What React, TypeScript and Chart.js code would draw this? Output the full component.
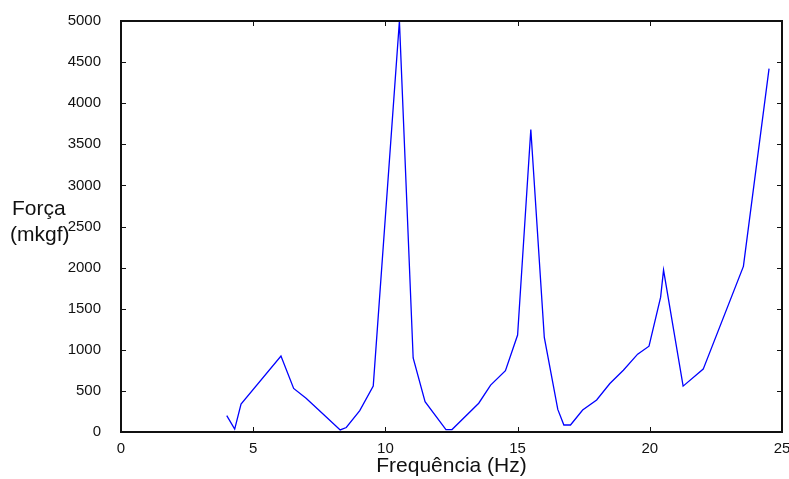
import React, { useEffect, useRef } from "react";
import { Chart, registerables } from "chart.js";

Chart.register(...registerables);

const freq = [
  4.0, 4.3, 4.54, 6.05, 6.53, 7.0, 7.54, 8.29, 8.52, 9.03, 9.54, 10.53, 11.05,
  11.5, 12.29, 12.52, 13.53, 13.98, 14.54, 15.0, 15.5, 16.01, 16.52, 16.75,
  17.0, 17.46, 17.99, 18.49, 19.0, 19.54, 19.97, 20.41, 20.52, 21.26, 22.02,
  23.54, 24.51,
];
const force = [
  200, 36, 340, 925, 530, 410, 250, 25, 55, 260, 560, 5000, 900, 370, 30, 30,
  350, 570, 745, 1180, 3680, 1150, 275, 85, 85, 267, 390, 590, 752, 947, 1044,
  1640, 1970, 558, 765, 2015, 4420,
];
const xTitle = "Frequência (Hz)";
const yTitleLines = ["Força", "(mkgf)"];

const FONT = "'Liberation Sans', Arial, sans-serif";
const INK = "#111111";

const framePlugin = {
  id: "framePlugin",
  afterDraw(chart: any) {
    const { ctx, chartArea } = chart;
    const { left, right, top, bottom } = chartArea;
    const xs = chart.scales.x;
    const ys = chart.scales.y;
    ctx.save();
    ctx.strokeStyle = INK;
    ctx.lineWidth = 1;
    ctx.beginPath();
    xs.ticks.forEach((t: any) => {
      const px = Math.round(xs.getPixelForValue(t.value)) + 0.5;
      ctx.moveTo(px, bottom);
      ctx.lineTo(px, bottom - 5);
      ctx.moveTo(px, top);
      ctx.lineTo(px, top + 5);
    });
    ys.ticks.forEach((t: any) => {
      const py = Math.round(ys.getPixelForValue(t.value)) + 0.5;
      ctx.moveTo(left, py);
      ctx.lineTo(left + 5, py);
      ctx.moveTo(right, py);
      ctx.lineTo(right - 5, py);
    });
    ctx.stroke();
    ctx.lineWidth = 2;
    ctx.strokeRect(left, top, right - left, bottom - top);
    ctx.fillStyle = INK;
    ctx.font = `21px ${FONT}`;
    ctx.textAlign = "left";
    ctx.textBaseline = "middle";
    ctx.fillText(yTitleLines[0], 12, 209);
    ctx.fillText(yTitleLines[1], 10, 235);
    ctx.restore();
  },
};

export default function App() {
  const ref = useRef<HTMLCanvasElement | null>(null);
  useEffect(() => {
    if (!ref.current) return;
    const chart = new Chart(ref.current, {
      type: "scatter",
      data: {
        datasets: [
          {
            data: freq.map((x, i) => ({ x, y: force[i] })),
            showLine: true,
            borderColor: "#0000ff",
            backgroundColor: "#0000ff",
            borderWidth: 1.3,
            pointRadius: 0,
            fill: false,
            tension: 0,
          },
        ],
      },
      options: {
        animation: false,
        responsive: false,
        maintainAspectRatio: false,
        layout: { padding: { top: 20, right: 7, left: 0, bottom: 0 } },
        plugins: { legend: { display: false }, tooltip: { enabled: false } },
        scales: {
          x: {
            type: "linear",
            min: 0,
            max: 25,
            ticks: {
              stepSize: 5,
              color: INK,
              font: { family: FONT, size: 15 },
              padding: 0,
              maxRotation: 0,
              callback: (v: any) => String(v),
            },
            grid: { display: false },
            border: { display: false },
            title: {
              display: true,
              text: xTitle,
              color: INK,
              font: { family: FONT, size: 21, lineHeight: 1 },
              padding: { top: 0, bottom: 2 },
            },
            afterFit: (s: any) => {
              s.height = 47;
              s.paddingRight = 0;
              s.paddingLeft = 0;
            },
          },
          y: {
            type: "linear",
            min: 0,
            max: 5000,
            ticks: {
              stepSize: 500,
              color: INK,
              font: { family: FONT, size: 15 },
              padding: 12,
              callback: (v: any) => String(v),
            },
            grid: { display: false },
            border: { display: false },
            afterFit: (s: any) => {
              s.width = 121;
            },
          },
        },
      },
      plugins: [framePlugin],
    });
    return () => chart.destroy();
  }, []);
  return (
    <div style={{ position: "absolute", left: 0, top: 0, width: 789, height: 479, background: "#fff" }}>
      <canvas ref={ref} width={789} height={479} />
    </div>
  );
}
